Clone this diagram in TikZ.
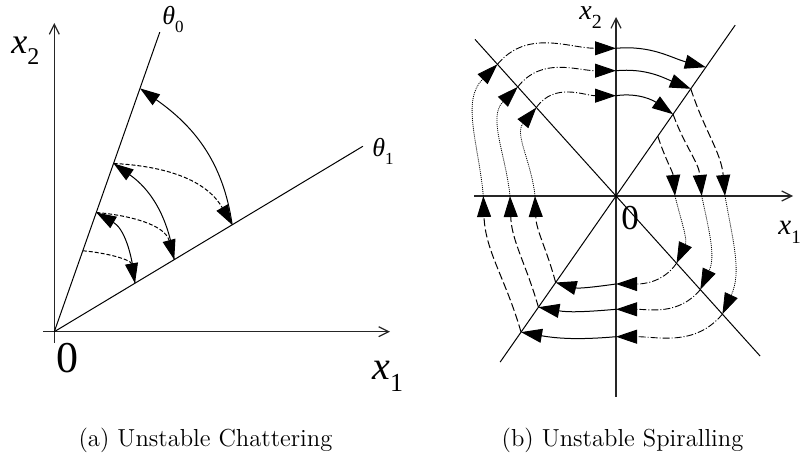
\documentclass[tikz,border=0pt]{standalone}
\usepackage{fontspec}
\usepackage{tikz}
\usetikzlibrary{arrows.meta}
\newfontfamily\lblfont{Liberation Serif}[ItalicFont={Liberation Serif Italic}]
\newcommand{\twolbl}[4]{{\lblfont\fontsize{#1}{#1}\selectfont\textit{#3}\raisebox{-0.3em}{\fontsize{#2}{#2}\selectfont #4}}}
\tikzset{
  axisline/.style={-{Straight Barb[length=5pt,width=5pt]},line width=0.6pt,draw=black!85},
  rayline/.style={line width=0.5pt,draw=black},
  flowtip/.style={-{Triangle[length=10.5pt,width=7pt]}},
  chattip/.style={-{Triangle[length=10pt,width=6.5pt]}},
  solidflow/.style={line width=0.5pt},
  chatdash/.style={line width=0.5pt,dash pattern=on 2pt off 1pt},
  spiraldash/.style={line width=0.5pt,dash pattern=on 4pt off 1.6pt},
  dashdotflow/.style={line width=0.45pt,dash pattern=on 3.5pt off 1pt on 0.5pt off 1pt},
  dotflow/.style={line width=0.4pt,draw=black,dash pattern=on 0.5pt off 0.5pt},
  axlabel/.style={inner sep=0pt,anchor=base west},
  subcap/.style={font=\fontsize{12.3}{14}\selectfont,anchor=base,inner sep=0pt}
}

\begin{document}
\begin{tikzpicture}[x=0.5pt,y=0.5pt]
  \useasboundingbox (0,0) rectangle (802,460);

  % (a) chattering
  \begin{scope}[shift={(54.3,128.3)}]
    \coordinate (o1) at (0,0);
    \coordinate (x1a) at (-11.3,0);
    \coordinate (x1b) at (335.7,0);
    \coordinate (x2a) at (0,-11.3);
    \coordinate (x2b) at (0,308.7);
    \coordinate (th0) at (70.6:317.6);
    \coordinate (th1) at (31:360);
    \coordinate (a1) at (70.6:85.8);
    \coordinate (b1) at (31:94.1);
    \coordinate (a2) at (70.6:126.4);
    \coordinate (b2) at (31:139.9);
    \coordinate (a3) at (70.6:178.4);
    \coordinate (b3) at (31:207.5);
    \coordinate (a4) at (70.6:258);
  \end{scope}

  \draw[axisline] (x1a) -- (x1b);
  \draw[axisline] (x2a) -- (x2b);
  \draw[rayline] (o1) -- (th0);
  \draw[rayline] (o1) -- (th1);

  \draw[chatdash,chattip] (a1) to[out=-5,in=100] (b1);
  \draw[solidflow,chattip] (b1) to[out=95,in=-30] (a2);
  \draw[chatdash,chattip] (a2) to[out=-5,in=105] (b2);
  \draw[solidflow,chattip] (b2) to[out=98,in=-35] (a3);
  \draw[chatdash,chattip] (a3) to[out=-3,in=120] (b3);
  \draw[solidflow,chattip] (b3) to[out=98,in=-35] (a4);

  \node[axlabel] (labx2a) at (11,406.7) {\twolbl{18}{12}{x}{2}};
  \node[axlabel] (labx1a) at (372,80) {\twolbl{20}{13}{x}{1}};
  \node[axlabel,font=\lblfont\fontsize{22}{22}\selectfont] (lab0a) at (56,87) {0};
  \node[axlabel] (labth0) at (162,435) {\twolbl{13}{8.5}{θ}{0}};
  \node[axlabel] (labth1) at (372,303) {\twolbl{13}{8.5}{θ}{1}};

  % (b) spiralling
  \begin{scope}[shift={(616,264)}]
    \coordinate (o2) at (0,0);
    \coordinate (y1a) at (-142,0);
    \coordinate (y1b) at (177,0);
    \coordinate (y2a) at (0,-201);
    \coordinate (y2b) at (0,179);
    \coordinate (dga) at (235.1:202.5);
    \coordinate (dgb) at (55.1:208.3);
    \coordinate (dha) at (132:210.8);
    \coordinate (dhb) at (-48:215.3);
    \coordinate (p1) at (132:177.2);
    \coordinate (p2) at (132:146.8);
    \coordinate (p3) at (132:119);
    \coordinate (q1) at (0,147.7);
    \coordinate (q2) at (0,125.3);
    \coordinate (q3) at (0,100.3);
    \coordinate (r1) at (55.1:157);
    \coordinate (r2) at (55.1:130.7);
    \coordinate (r3) at (55.1:99.7);
    \coordinate (r4) at (55.1:73);
    \coordinate (s1) at (109,0);
    \coordinate (s2) at (85.7,0);
    \coordinate (s3) at (59,0);
    \coordinate (t1) at (-48:159);
    \coordinate (t2) at (-48:126);
    \coordinate (t3) at (-48:90.5);
    \coordinate (v1) at (0,-140.7);
    \coordinate (v2) at (0,-113.3);
    \coordinate (v3) at (0,-88);
    \coordinate (u1) at (235.1:166);
    \coordinate (u2) at (235.1:135.6);
    \coordinate (u3) at (235.1:105.5);
    \coordinate (w1) at (-132.7,0);
    \coordinate (w2) at (-106,0);
    \coordinate (w3) at (-81,0);
  \end{scope}

  \draw[axisline] (y1a) -- (y1b);
  \draw[axisline] (y2a) -- (y2b);
  \draw[rayline] (dga) -- (dgb);
  \draw[rayline] (dha) -- (dhb);

  \draw[dashdotflow,flowtip] (p1) to[out=50,in=180] (q1);
  \draw[dashdotflow,flowtip] (p2) to[out=52,in=180] (q2);
  \draw[dashdotflow,flowtip] (p3) to[out=55,in=180] (q3);
  \draw[solidflow,flowtip] (q1) to[out=5,in=165] (r1);
  \draw[solidflow,flowtip] (q2) to[out=5,in=158] (r2);
  \draw[solidflow,flowtip] (q3) to[out=8,in=145] (r3);

  \draw[spiraldash,flowtip] (r2) to[out=-72,in=95] (s1);
  \draw[spiraldash,flowtip] (r3) to[out=-70,in=95] (s2);
  \draw[spiraldash,flowtip] (r4) to[out=-72,in=95] (s3);
  \draw[dotflow,flowtip] (s1) to[out=-80,in=65] (t1);
  \draw[dotflow,flowtip] (s2) to[out=-78,in=65] (t2);
  \draw[dotflow,flowtip] (s3) to[out=-76,in=65] (t3);

  \draw[dashdotflow,flowtip] (t1) to[out=-130,in=0] (v1);
  \draw[dashdotflow,flowtip] (t2) to[out=-130,in=0] (v2);
  \draw[dashdotflow,flowtip] (t3) to[out=-125,in=0] (v3);
  \draw[solidflow,flowtip] (v1) to[out=185,in=-10] (u1);
  \draw[solidflow,flowtip] (v2) to[out=185,in=-10] (u2);
  \draw[solidflow,flowtip] (v3) to[out=188,in=-15] (u3);

  \draw[spiraldash,flowtip] (u1) to[out=106,in=-88] (w1);
  \draw[spiraldash,flowtip] (u2) to[out=106,in=-88] (w2);
  \draw[spiraldash,flowtip] (u3) to[out=105,in=-88] (w3);
  \draw[dotflow,flowtip] (w1) to[out=95,in=-135] (p1);
  \draw[dotflow,flowtip] (w2) to[out=96,in=-135] (p2);
  \draw[dotflow,flowtip] (w3) to[out=96,in=-130] (p3);

  \node[axlabel] (labx2b) at (579,440) {\twolbl{14}{10}{x}{2}};
  \node[axlabel] (labx1b) at (778,225) {\twolbl{14.5}{9.5}{x}{1}};
  \node[axlabel,font=\lblfont\fontsize{17.5}{17.5}\selectfont] (lab0b) at (621,230) {0};

  \node[subcap] (capa) at (205.5,14) {(a) Unstable Chattering};
  \node[subcap] (capb) at (622.5,14) {(b) Unstable Spiralling};
\end{tikzpicture}
\end{document}
